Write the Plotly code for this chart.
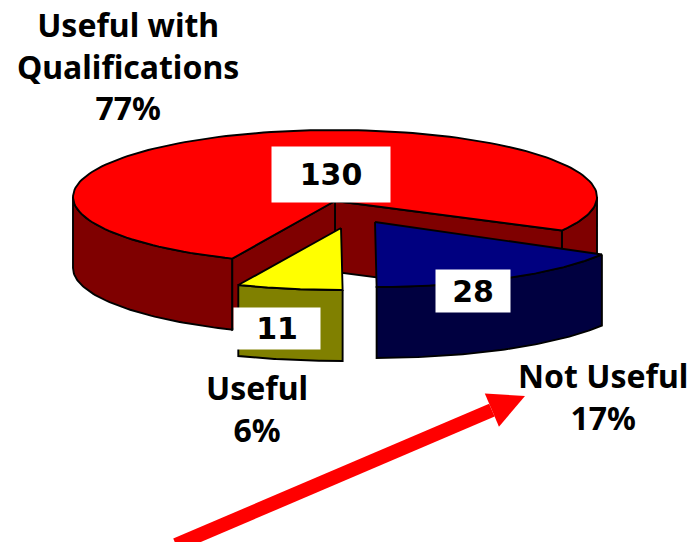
import numpy as np
import plotly.graph_objects as go

# Survey responses
categories = ["Useful with Qualifications", "Not Useful", "Useful"]
counts = [130, 28, 11]
percent_labels = ["77%", "17%", "6%"]

RED, RED_DARK = "#ff0000", "#7f0000"
BLUE, BLUE_DARK = "#000080", "#000040"
YELLOW, YELLOW_DARK = "#ffff00", "#808000"

# Pixel-space projection of the tilted pie
RX = 262
DEPTH = 71
START_ANGLE = 120  # clockwise from twelve o'clock

W, H = 692, 542


def ell(cx, cy, ry, deg):
    a = np.radians(np.asarray(deg, dtype=float))
    return cx + RX * np.sin(a), cy - ry * np.cos(a)


def poly(x, y, fill):
    return go.Scatter(
        x=list(x) + [x[0]], y=list(y) + [y[0]], mode="lines", fill="toself",
        fillcolor=fill, line=dict(color="black", width=1.9),
        hoverinfo="skip", showlegend=False,
    )


def outer_wall(cx, cy, ry, a0, a1, fill):
    deg = np.linspace(a0, a1, 60)
    x, y = ell(cx, cy, ry, deg)
    return poly(np.r_[x, x[::-1]], np.r_[y, y[::-1] + DEPTH], fill)


def cut_wall(x0, y0, x1, y1, fill):
    return poly([x0, x1, x1, x0], [y0, y1, y1 + DEPTH, y0 + DEPTH], fill)


def top_face(cx, cy, ry, ax, ay, a0, a1, fill):
    x, y = ell(cx, cy, ry, np.linspace(a0, a1, 160))
    return poly(np.r_[ax, x], np.r_[ay, y], fill)


# Slice spans follow from the counts
total = sum(counts)
sweep = dict(zip(categories, [360 * c / total for c in counts]))
blue_a0 = START_ANGLE
blue_a1 = blue_a0 + sweep["Not Useful"]
yellow_a0 = blue_a1
yellow_a1 = yellow_a0 + sweep["Useful"]
red_a0 = yellow_a1
red_a1 = red_a0 + sweep["Useful with Qualifications"]

fig = go.Figure()

# Large slice: walls first, lid on top
cx, cy, ry, ax, ay = 335, 197, 67, 335, 201
ex0, ey0 = ell(cx, cy, ry, red_a0)
ex1, ey1 = ell(cx, cy, ry, red_a1)
fig.add_trace(outer_wall(cx, cy, ry, red_a0, 270, RED_DARK))
fig.add_trace(outer_wall(cx, cy, ry, 90, blue_a0, RED_DARK))
fig.add_trace(cut_wall(ax, ay, ex1, ey1, RED_DARK))
fig.add_trace(cut_wall(ax, ay, ex0, ey0, RED_DARK))
fig.add_trace(top_face(cx, cy, ry, ax, ay, red_a0, red_a1, RED))

# Pulled-out small slice
cx, cy, ry = 341, 228, 62
fig.add_trace(outer_wall(cx, cy, ry, yellow_a0, yellow_a1, YELLOW_DARK))
fig.add_trace(top_face(cx, cy, ry, cx, cy, yellow_a0, yellow_a1, YELLOW))

# Pulled-out medium slice
cx, cy, ry = 375, 222, 65
fig.add_trace(outer_wall(cx, cy, ry, blue_a0, blue_a1, BLUE_DARK))
fig.add_trace(top_face(cx, cy, ry, cx, cy, blue_a0, blue_a1, BLUE))

FONT = "Noto Sans"
ann = []


def value_box(cx_, cy_, w, h, val):
    ann.append(dict(
        x=cx_, y=cy_, xref="x", yref="y", text=f"<b>{val}</b>", showarrow=False,
        width=w, height=h, bgcolor="white", align="center", valign="middle",
        font=dict(family="DejaVu Sans", size=30, color="black"),
    ))


value_box(331, 174, 116, 53, counts[0])
value_box(473, 291, 72, 40, counts[1])
value_box(277, 328, 84, 39, counts[2])


def label(x, y, lines, size=32):
    ann.append(dict(
        x=x, y=y, xref="x", yref="y", text="<br>".join(f"<b>{l}</b>" for l in lines),
        showarrow=False, align="center", xanchor="center", yanchor="middle",
        font=dict(family=FONT, size=size, color="black"),
    ))


label(128, 66, ["Useful with", "Qualifications", percent_labels[0]])
label(603, 396, ["Not Useful", percent_labels[1]])
label(257, 408, ["Useful", percent_labels[2]])

# Red callout arrow running off the lower edge
tail = np.array([176.0, 545.0])
tip = np.array([525.0, 396.0])
d = (tip - tail) / np.linalg.norm(tip - tail)
n = np.array([-d[1], d[0]])
base = tip - 36 * d
c1, c2 = base + 18 * n, base - 18 * n
shapes = [
    dict(type="line", x0=tail[0], y0=tail[1], x1=base[0], y1=base[1], xref="x", yref="y",
         line=dict(color="#ff0000", width=14)),
    dict(type="path", xref="x", yref="y", fillcolor="#ff0000", line=dict(width=0),
         path=f"M{tip[0]},{tip[1]} L{c1[0]},{c1[1]} L{c2[0]},{c2[1]} Z"),
]

fig.update_layout(
    width=W, height=H, margin=dict(l=0, r=0, t=0, b=0),
    paper_bgcolor="white", plot_bgcolor="white", showlegend=False,
    xaxis=dict(range=[0, W], visible=False, fixedrange=True),
    yaxis=dict(range=[H, 0], visible=False, fixedrange=True),
    annotations=ann, shapes=shapes,
)

fig.write_html("out.html", config=dict(displayModeBar=False))
